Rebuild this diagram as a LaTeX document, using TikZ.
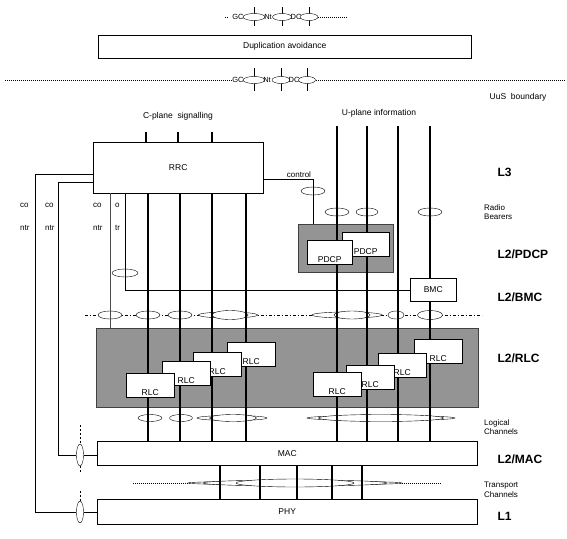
\documentclass[tikz,border=0pt]{standalone}
\usepackage{fontspec}
\setmainfont{Liberation Sans}
\usetikzlibrary{shapes.geometric}

\begin{document}
\begin{tikzpicture}[x=1pt, y=-1pt, font=\fontsize{8.5}{10}\selectfont,
	box/.style={draw, fill=white, inner sep=0pt, anchor=north west},
	area/.style={draw=black!75, fill=black!42, inner sep=0pt, anchor=north west},
	smallbox/.style={box, minimum width=48pt, minimum height=24pt, label={[anchor=south, inner sep=1.5pt]south:#1}},
	sap/.style={draw, fill=white, ellipse, inner sep=0pt},
	sapname/.style={font=\fontsize{7.5}{8}\selectfont, inner sep=0pt},
	ch/.style={line width=2pt},
	chb/.style={line width=2.8pt},
	dots/.style={line width=0.5pt, dash pattern=on 1pt off 1pt},
	layer/.style={font=\bfseries\fontsize{12}{14}\selectfont, anchor=west},
	note/.style={font=\fontsize{8}{9.5}\selectfont, anchor=west, align=left, inner sep=0pt}]
		\useasboundingbox (0,0) rectangle (567,538);
		% top SAPs and duplication avoidance
		\draw[dots] (225,17) -- (228,17);
		\draw[dots] (318,17) -- (347,17);
		\foreach \x in {254,282,309} \draw (\x,7) -- (\x,26);
		\node[sap, minimum width=22pt, minimum height=7pt] (gc1) at (254,17) {};
		\node[sap, minimum width=19pt, minimum height=7pt] (nt1) at (282,17) {};
		\node[sap, minimum width=18pt, minimum height=7pt] (dc1) at (309,17) {};
		\node[sapname] at (238,17) {GC};
		\node[sapname] at (268,17) {Nt};
		\node[sapname] at (296,17) {DC};
		\node[box, minimum width=373pt, minimum height=23pt] (dup) at (98,35) {};
		\node at (dup.center) {Duplication avoidance};
		\draw[dots] (5,80) -- (232,80);
		\draw[dots] (316,80) -- (565,80);
		\foreach \x in {254,281,307} \draw (\x,68) -- (\x,91);
		\node[sap, minimum width=22pt, minimum height=7pt] (gc2) at (254,80) {};
		\node[sap, minimum width=18pt, minimum height=7pt] (nt2) at (281,80) {};
		\node[sap, minimum width=17pt, minimum height=7pt] (dc2) at (307,80) {};
		\node[sapname] at (238,80) {GC};
		\node[sapname] at (267,80) {Nt};
		\node[sapname] at (294,80) {DC};
		\node[inner sep=0pt] at (518,97) {UuS\ \ boundary};
		\node[inner sep=0pt] at (178,116) {C-plane\ \ signalling};
		\node[inner sep=0pt] at (379,113) {U-plane information};
		% layer boxes
		\node[box, minimum width=170pt, minimum height=51pt] (rrc) at (93,142) {RRC};
		\node[area, minimum width=95pt, minimum height=48pt] (pdcparea) at (298,224) {};
		\node[area, minimum width=382pt, minimum height=79pt] (rlcarea) at (96,328) {};
		\node[box, minimum width=380pt, minimum height=24pt] (mac) at (97,441) {MAC};
		\node[box, minimum width=380pt, minimum height=25pt] (phy) at (97,499) {PHY};
		\node[box, minimum width=46pt, minimum height=23pt] (bmc) at (410,278) {BMC};
		% SAP boundaries
		\draw[line width=0.5pt, dash pattern=on 3pt off 2pt on 1pt off 2pt] (85,315) -- (482,315);
		\draw[dots] (133,483) -- (190,483);
		\draw[dots] (400,483) -- (442,483);
		\node[sap, minimum width=24pt, minimum height=8pt] (rb1) at (337,212) {};
		\node[sap, minimum width=22pt, minimum height=8pt] (rb2) at (367,212) {};
		\node[sap, minimum width=24pt, minimum height=8pt] (rb3) at (430,212) {};
		\node[sap, minimum width=24pt, minimum height=8pt] (ctl) at (313,191) {};
		\node[sap, minimum width=26pt, minimum height=8pt] (tr) at (125,273) {};
		\node[sap, minimum width=24pt, minimum height=8pt] (ls1) at (110,315) {};
		\node[sap, minimum width=24pt, minimum height=8pt] (ls2) at (148,315) {};
		\node[sap, minimum width=24pt, minimum height=8pt] (ls3) at (180,315) {};
		\node[sap, minimum width=59pt, minimum height=6pt] (ls4) at (228,315) {};
		\node[sap, minimum width=36pt, minimum height=9pt] (ls5) at (230,315) {};
		\node[sap, minimum width=70pt, minimum height=6pt] (ls6) at (347,315) {};
		\node[sap, minimum width=36pt, minimum height=8pt] (ls7) at (352,315) {};
		\node[sap, minimum width=16pt, minimum height=8pt] (ls8) at (396,315) {};
		\node[sap, minimum width=25pt, minimum height=9pt] (ls9) at (430,315) {};
		\node[sap, minimum width=24pt, minimum height=7pt] (lc1) at (150,418) {};
		\node[sap, minimum width=23pt, minimum height=7pt] (lc2) at (181,418) {};
		\node[sap, minimum width=70pt, minimum height=5pt] (lc3) at (232,418) {};
		\node[sap, minimum width=47pt, minimum height=7pt] (lc4) at (233,418) {};
		\node[sap, minimum width=148pt, minimum height=5pt] (lc5) at (381,418) {};
		\node[sap, minimum width=125pt, minimum height=7pt] (lc6) at (381,418) {};
		\node[sap, minimum width=214pt, minimum height=4pt] (tc1) at (295,483) {};
		\node[sap, minimum width=184pt, minimum height=6pt] (tc2) at (295,483) {};
		\node[sap, minimum width=118pt, minimum height=8pt] (tc3) at (295,483) {};
		\node[sap, minimum width=7pt, minimum height=22pt] (macsap) at (80,455) {};
		\node[sap, minimum width=7pt, minimum height=22pt] (physap) at (80,512) {};
		\draw[line width=0.5pt, dash pattern=on 2pt off 2pt] (80,425) -- (macsap.north);
		\draw[line width=0.5pt, dash pattern=on 2pt off 2pt] (macsap.south) -- (80,474);
		\draw[line width=0.5pt, dash pattern=on 2pt off 2pt] (80,491) -- (physap.north);
		% channels
		\draw[ch] (146,132) -- (146,0 |- rrc.north);
		\draw[ch] (178,132) -- (178,0 |- rrc.north);
		\draw[chb] (212,132) -- (212,0 |- rrc.north);
		\draw[ch] (148,0 |- rrc.south) -- (148,0 |- mac.north);
		\draw[ch] (180,0 |- rrc.south) -- (180,0 |- mac.north);
		\draw[chb] (212,0 |- rrc.south) -- (212,0 |- mac.north);
		\draw[ch] (246,0 |- rrc.south) -- (246,0 |- mac.north);
		\draw[chb] (337,126) -- (337,0 |- mac.north);
		\draw[ch] (367,126) -- (367,0 |- mac.north);
		\draw[ch] (398,126) -- (398,0 |- mac.north);
		\draw[chb] (430,126) -- (bmc.north -| 430,0);
		\draw[chb] (bmc.south -| 430,0) -- (430,0 |- mac.north);
		\foreach \x in {220,260,297,332,362} \draw[line width=1.8pt] (\x,0 |- mac.south) -- (\x,0 |- phy.north);
		% control lines
		\draw[line width=0.7pt, black!70] (110,0 |- rrc.south) -- (110,0 |- rlcarea.north);
		\draw[line width=0.7pt] (125,0 |- rrc.south) |- (bmc.west |- 0,290);
		\draw[line width=0.7pt] (rrc.east |- 0,179) -| (313,0 |- pdcparea.north);
		\draw[line width=0.7pt] (rrc.west |- 0,174) -| (35,0 |- physap) -- (physap.west);
		\draw[line width=0.7pt] (rrc.west |- 0,182) -| (58,0 |- macsap) -- (macsap.west);
		\draw[line width=0.7pt] (macsap.east) -- (mac.west |- macsap);
		\draw[line width=0.7pt] (physap.east) -- (phy.west |- physap);
		% PDCP and RLC entities
		\node[smallbox=PDCP, minimum width=47pt] (pdcp2) at (342,232) {};
		\node[smallbox=PDCP, minimum width=45pt] (pdcp1) at (307,240) {};
		\node[smallbox=RLC] (rlc4) at (227,342) {};
		\node[smallbox=RLC] (rlc3) at (193,352) {};
		\node[smallbox=RLC] (rlc2) at (162,361) {};
		\node[smallbox=RLC] (rlc1) at (126,373) {};
		\node[smallbox=RLC] (rlc8) at (414,339) {};
		\node[smallbox=RLC] (rlc7) at (378,353) {};
		\node[smallbox=RLC] (rlc6) at (346,365) {};
		\node[smallbox=RLC] (rlc5) at (313,372) {};
		% side labels
		\node[font=\fontsize{8}{9.5}\selectfont] at (299,175) {control};
		\node[note] at (20,205) {co};
		\node[note] at (45,205) {co};
		\node[note] at (93,205) {co};
		\node[note] at (115,205) {o};
		\node[note] at (20,228) {ntr};
		\node[note] at (45,228) {ntr};
		\node[note] at (93,228) {ntr};
		\node[note] at (115,228) {tr};
		\node[layer] at (494,172) {L3};
		\node[note] at (484,212) {Radio\\Bearers};
		\node[layer] at (494,254) {L2/PDCP};
		\node[layer] at (494,297) {L2/BMC};
		\node[layer] at (494,358) {L2/RLC};
		\node[note] at (484,427) {Logical\\Channels};
		\node[layer] at (494,459) {L2/MAC};
		\node[note] at (484,490) {Transport\\Channels};
		\node[layer] at (494,516) {L1};
\end{tikzpicture}
\end{document}
